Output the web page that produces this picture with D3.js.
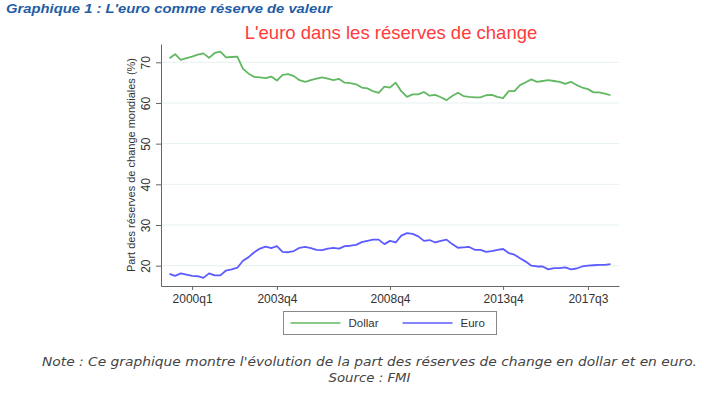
<!DOCTYPE html>
<html>
<head>
<meta charset="utf-8">
<script src="https://cdn.jsdelivr.net/npm/d3@7"></script>
<style>
  body { margin: 0; background: #fff; }
  svg { display: block; }
  .axis text { font-family: "Liberation Sans", Arial, sans-serif; font-size: 12px; fill: #333; }
  .axis path, .axis line { stroke: #666; }
</style>
</head>
<body>
<svg id="chart" width="704" height="397"></svg>
<script>
// quarterly data, 1999q1 .. 2018q3 (79 quarters)
const startYear = 1999;
const quarters = d3.range(79).map(i => `${startYear + Math.floor(i / 4)}q${(i % 4) + 1}`);

const dollar = [
  71.0, 72.0, 70.6, 71.0, 71.4, 71.9, 72.2, 71.1, 72.3, 72.6,
  71.2, 71.3, 71.4, 68.4, 67.2, 66.4, 66.3, 66.1, 66.5, 65.5,
  66.9, 67.1, 66.6, 65.6, 65.2, 65.6, 66.0, 66.3, 66.0, 65.6,
  65.9, 65.0, 64.9, 64.6, 63.8, 63.6, 62.9, 62.5, 64.0, 63.8,
  65.0, 62.9, 61.5, 62.1, 62.1, 62.7, 61.8, 62.0, 61.4, 60.7,
  61.7, 62.5, 61.7, 61.5, 61.4, 61.4, 61.9, 62.0, 61.5, 61.2,
  62.9, 62.9, 64.4, 65.1, 65.8, 65.2, 65.4, 65.6, 65.4, 65.2,
  64.7, 65.2, 64.4, 63.8, 63.4, 62.6, 62.6, 62.3, 61.9
];

const euro = [
  18.0, 17.5, 18.1, 17.8, 17.5, 17.4, 17.0, 18.1, 17.6, 17.6,
  18.8, 19.1, 19.5, 21.2, 22.1, 23.3, 24.2, 24.7, 24.3, 24.8,
  23.4, 23.3, 23.6, 24.4, 24.6, 24.3, 23.9, 23.8, 24.2, 24.4,
  24.2, 24.8, 24.9, 25.1, 25.8, 26.1, 26.4, 26.4, 25.3, 26.1,
  25.7, 27.4, 28.0, 27.8, 27.2, 26.1, 26.3, 25.7, 26.1, 26.4,
  25.3, 24.4, 24.5, 24.6, 23.9, 23.9, 23.4, 23.6, 23.9, 24.1,
  23.1, 22.7, 21.8, 21.0, 20.0, 19.8, 19.8, 19.1, 19.4, 19.4,
  19.6, 19.1, 19.3, 19.8, 20.0, 20.1, 20.2, 20.2, 20.4
];

const xTicks = ["2000q1", "2003q4", "2008q4", "2013q4", "2017q3"];
const yTicks = [20, 30, 40, 50, 60, 70];

const series = [
  { name: "Dollar", values: dollar, color: "#62b862" },
  { name: "Euro", values: euro, color: "#5b5bff" }
];

const svg = d3.select("#chart");
const plotLeft = 161, plotRight = 619, plotTop = 44, plotBottom = 286;

const x = d3.scalePoint()
  .domain(quarters)
  .range([plotLeft, plotRight])
  .padding(1.5);

const y = d3.scaleLinear()
  .domain([15, 74.5])
  .range([plotBottom, plotTop]);

// header
svg.append("text")
  .attr("x", 6).attr("y", 12.5)
  .attr("font-family", "Liberation Sans, Arial, sans-serif")
  .attr("font-size", 13.5).attr("font-weight", "bold").attr("font-style", "italic")
  .attr("fill", "#1f5da6")
  .attr("textLength", 326).attr("lengthAdjust", "spacingAndGlyphs")
  .text("Graphique 1 : L'euro comme réserve de valeur");

// chart title
svg.append("text")
  .attr("x", 391).attr("y", 39)
  .attr("text-anchor", "middle")
  .attr("font-family", "Liberation Sans, Arial, sans-serif")
  .attr("font-size", 18.5)
  .attr("fill", "#ff3b3b")
  .text("L'euro dans les réserves de change");

// gridlines
svg.append("g")
  .selectAll("line")
  .data(yTicks)
  .join("line")
    .attr("x1", plotLeft).attr("x2", plotRight)
    .attr("y1", d => y(d)).attr("y2", d => y(d))
    .attr("stroke", "#e6f0f0").attr("stroke-width", 1);

// y axis
const yAxisG = svg.append("g")
  .attr("class", "axis")
  .attr("transform", `translate(${plotLeft},0)`)
  .call(d3.axisLeft(y).tickValues(yTicks).tickSize(5).tickSizeOuter(0));
yAxisG.selectAll(".tick text")
  .attr("x", 0).attr("dy", 0).attr("y", -11)
  .attr("text-anchor", "middle")
  .attr("transform", "rotate(-90)");

svg.append("text")
  .attr("transform", `translate(135,${(plotTop + plotBottom) / 2}) rotate(-90)`)
  .attr("text-anchor", "middle")
  .attr("font-family", "Liberation Sans, Arial, sans-serif")
  .attr("font-size", 11)
  .attr("fill", "#333")
  .text("Part des réserves de change mondiales (%)");

// x axis
svg.append("g")
  .attr("class", "axis")
  .attr("transform", `translate(0,${plotBottom})`)
  .call(d3.axisBottom(x).tickValues(xTicks).tickSize(4).tickSizeOuter(0).tickPadding(4));

// lines
const line = d3.line()
  .x((d, i) => x(quarters[i]))
  .y(d => y(d));

svg.append("g")
  .selectAll("path")
  .data(series)
  .join("path")
    .attr("fill", "none")
    .attr("stroke", d => d.color)
    .attr("stroke-width", 1.8)
    .attr("stroke-linejoin", "round")
    .attr("d", d => line(d.values));

// legend
const legend = svg.append("g").attr("transform", "translate(283.5,311.5)");
legend.append("rect")
  .attr("width", 213).attr("height", 23)
  .attr("fill", "#fff").attr("stroke", "#888");
const items = legend.selectAll("g.item")
  .data(series)
  .join("g")
    .attr("class", "item")
    .attr("transform", (d, i) => `translate(${7 + i * 112},11.5)`);
items.append("line")
  .attr("x1", 0).attr("x2", 50)
  .attr("stroke", d => d.color).attr("stroke-width", 1.5);
items.append("text")
  .attr("x", 58).attr("dy", "0.35em")
  .attr("font-family", "Liberation Sans, Arial, sans-serif")
  .attr("font-size", 11.5).attr("fill", "#333")
  .text(d => d.name);

// notes
const notes = [
  "Note : Ce graphique montre l'évolution de la part des réserves de change en dollar et en euro.",
  "Source : FMI"
];
svg.append("g")
  .selectAll("text")
  .data(notes)
  .join("text")
    .attr("x", 369.5)
    .attr("y", (d, i) => 366 + i * 16)
    .attr("text-anchor", "middle")
    .attr("font-family", "DejaVu Sans, Verdana, sans-serif")
    .attr("font-size", 12.5)
    .attr("font-style", "italic")
    .attr("fill", "#444")
    .attr("textLength", (d, i) => i === 0 ? 655 : 82)
    .attr("lengthAdjust", "spacingAndGlyphs")
    .text(d => d);
</script>
</body>
</html>
